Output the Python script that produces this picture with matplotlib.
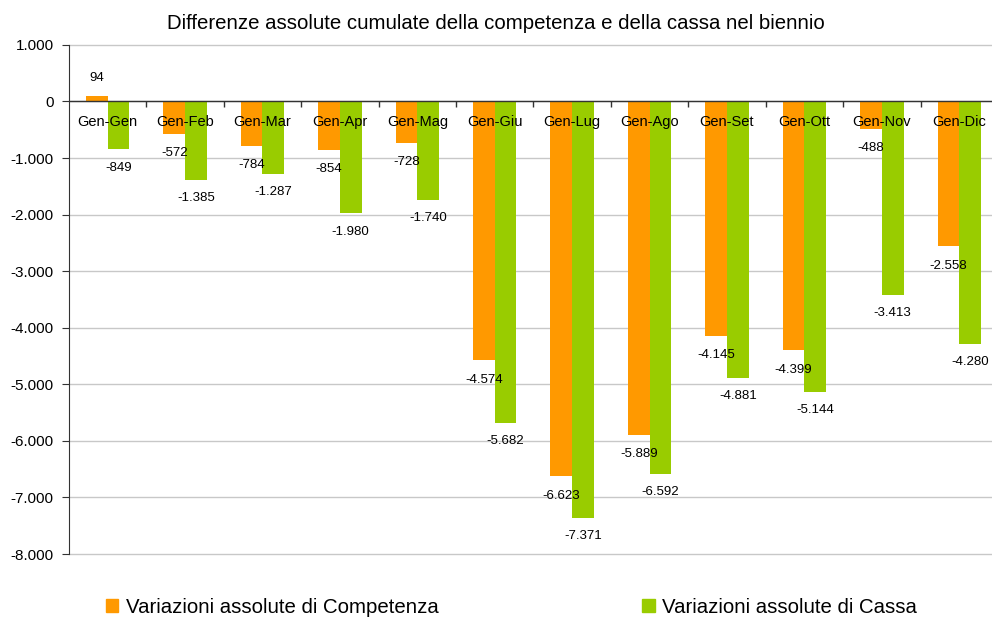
import numpy as np
import matplotlib
matplotlib.use('Agg')
import matplotlib.pyplot as plt
from matplotlib.ticker import FuncFormatter, MultipleLocator
from matplotlib.patches import Patch

categories = ['Gen-Gen', 'Gen-Feb', 'Gen-Mar', 'Gen-Apr', 'Gen-Mag', 'Gen-Giu',
              'Gen-Lug', 'Gen-Ago', 'Gen-Set', 'Gen-Ott', 'Gen-Nov', 'Gen-Dic']
competenza = [94, -572, -784, -854, -728, -4574, -6623, -5889, -4145, -4399, -488, -2558]
cassa = [-849, -1385, -1287, -1980, -1740, -5682, -7371, -6592, -4881, -5144, -3413, -4280]

title = 'Differenze assolute cumulate della competenza e della cassa nel biennio'
label_comp = 'Variazioni assolute di Competenza'
label_cassa = 'Variazioni assolute di Cassa'

c_orange = '#FF9900'
c_green = '#99CC00'

plt.rcParams['font.family'] = ['Liberation Sans', 'DejaVu Sans']


def fmt(v):
    return f'{int(round(v)):,}'.replace(',', '.')


def run():
    fig = plt.figure(figsize=(9.92, 6.19), dpi=100)
    ax = fig.add_axes([0.0695, 0.105, 0.9365, 0.8225])

    x = np.arange(len(categories))
    w = 0.28
    ax.bar(x - w / 2, competenza, w, color=c_orange, zorder=2)
    ax.bar(x + w / 2, cassa, w, color=c_green, zorder=2)

    ax.set_xlim(-0.5, len(categories) - 0.5)
    ax.set_ylim(-8000, 1000)
    ax.yaxis.set_major_locator(MultipleLocator(1000))
    ax.yaxis.set_major_formatter(FuncFormatter(lambda v, p: fmt(v)))
    ax.tick_params(axis='y', labelsize=11, length=5, direction='out', pad=6, color='#333333')
    ax.grid(axis='y', color='#c8c8c8', linewidth=1, zorder=0)
    for gl in ax.get_ygridlines():
        gl.set_clip_on(False)

    for s in ['top', 'right', 'bottom']:
        ax.spines[s].set_visible(False)
    ax.spines['left'].set_color('#333333')
    ax.axhline(0, color='#333333', linewidth=1, zorder=3)

    # category separators on the zero line
    ax.set_xticks([])
    for b in np.arange(0.5, len(categories) - 0.5, 1):
        ax.plot([b], [0], marker=3, markersize=4, color='#333333',
                markeredgewidth=1, zorder=3, clip_on=False)

    for i, cat in enumerate(categories):
        ax.annotate(cat, (i, 0), xytext=(0, -15), textcoords='offset points',
                    ha='center', va='center', fontsize=10.5, zorder=5)

    for i, (a, b) in enumerate(zip(competenza, cassa)):
        off = 13 if a >= 0 else -14
        ax.annotate(fmt(a), (i - w / 2, a), xytext=(0, off), textcoords='offset points',
                    ha='center', va='center', fontsize=9.5, zorder=5)
        off = 13 if b >= 0 else -13
        ax.annotate(fmt(b), (i + w / 2, b), xytext=(0, off), textcoords='offset points',
                    ha='center', va='center', fontsize=9.5, zorder=5)

    fig.text(0.5, 0.962, title, ha='center', va='center', fontsize=14.7)

    handles = [Patch(color=c_orange, label=label_comp), Patch(color=c_green, label=label_cassa)]
    fig.legend(handles=handles, loc='center', bbox_to_anchor=(0.5156, 0.019), ncol=2,
               frameon=False, fontsize=14.7, handlelength=0.6, handleheight=0.6,
               handletextpad=0.35, columnspacing=10, borderpad=0, borderaxespad=0)

    fig.savefig('out.png', dpi=100)
    plt.close(fig)


if __name__ == '__main__':
    run()
